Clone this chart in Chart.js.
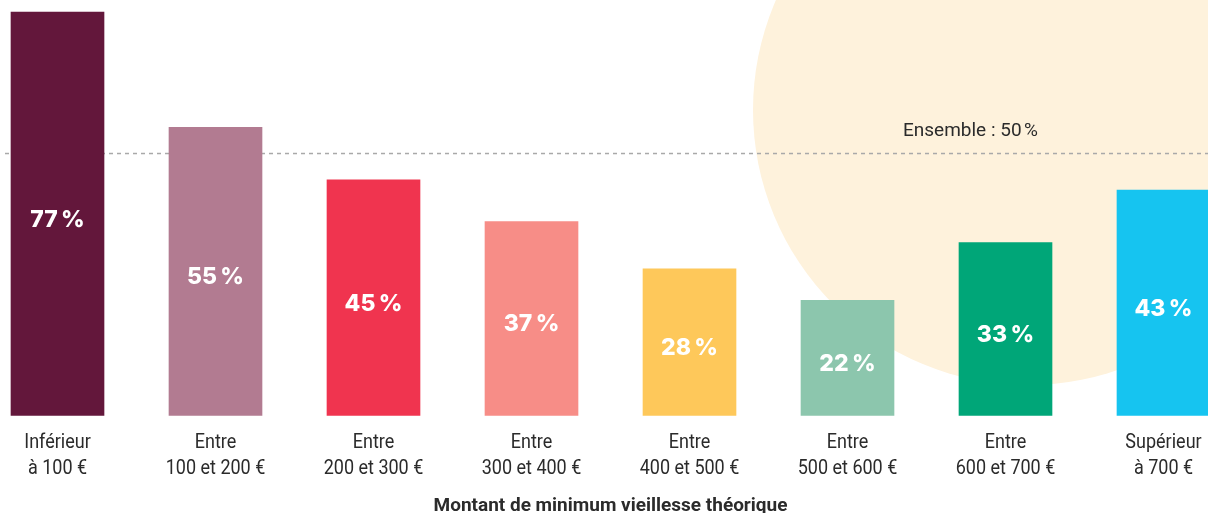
<!doctype html>
<html lang="fr">
<head>
  <meta charset="utf-8">
  <title>Minimum vieillesse théorique</title>
  <style>
    html, body { margin: 0; padding: 0; background: #fff; }
    .wrap { position: relative; width: 1208px; height: 513px; }
  </style>
</head>
<body>
  <div class="wrap">
    <canvas id="myChart"></canvas>
  </div>

  <script src="https://cdn.jsdelivr.net/npm/chart.js@4.4.2/dist/chart.umd.min.js"></script>
  <script>
    const ctx = document.getElementById('myChart');

    const labels = [
      ['Inférieur', 'à 100 €'],
      ['Entre', '100 et 200 €'],
      ['Entre', '200 et 300 €'],
      ['Entre', '300 et 400 €'],
      ['Entre', '400 et 500 €'],
      ['Entre', '500 et 600 €'],
      ['Entre', '600 et 700 €'],
      ['Supérieur', 'à 700 €']
    ];
    const values = [77, 55, 45, 37, 28, 22, 33, 43];
    const colors = ['#63173b', '#b27b91', '#f0344f', '#f78d87', '#fec85a', '#8cc6ad', '#00a678', '#16c4f0'];
    const ensemble = 50;

    // cream disc in the background, top right
    const backdrop = {
      id: 'backdrop',
      beforeDraw(chart) {
        const c = chart.ctx;
        c.save();
        c.fillStyle = '#fef2dc';
        c.beginPath();
        c.arc(1028, 110, 275, 0, Math.PI * 2);
        c.fill();
        c.restore();
      }
    };

    // dashed reference line for the whole population
    const refLine = {
      id: 'refLine',
      beforeDatasetsDraw(chart) {
        const c = chart.ctx;
        const y = chart.scales.y.getPixelForValue(ensemble);
        c.save();
        c.strokeStyle = '#a9a9a9';
        c.lineWidth = 1.5;
        c.setLineDash([4, 4]);
        c.beginPath();
        c.moveTo(5, y);
        c.lineTo(chart.width, y);
        c.stroke();
        c.setLineDash([]);
        c.fillStyle = '#2b2b2b';
        c.font = '19px Roboto';
        c.textAlign = 'left';
        c.textBaseline = 'alphabetic';
        c.fillText('Ensemble : ' + ensemble + '\u202f%', 903, y - 18);
        c.restore();
      }
    };

    // percentage written inside each bar
    const barValues = {
      id: 'barValues',
      afterDatasetsDraw(chart) {
        const c = chart.ctx;
        const meta = chart.getDatasetMeta(0);
        c.save();
        c.fillStyle = '#ffffff';
        c.font = '800 23px Inter';
        c.textAlign = 'center';
        c.textBaseline = 'middle';
        meta.data.forEach((bar, i) => {
          const mid = (bar.y + bar.base) / 2;
          c.fillText(values[i] + '\u202f%', bar.x, mid + 6);
        });
        c.restore();
      }
    };

    // two-line category labels, squeezed horizontally like a condensed face
    const catLabels = {
      id: 'catLabels',
      afterDraw(chart) {
        const c = chart.ctx;
        const xs = chart.scales.x;
        const bottom = chart.chartArea.bottom;
        c.save();
        c.fillStyle = '#2b2b2b';
        c.font = '20px Roboto';
        c.textAlign = 'center';
        c.textBaseline = 'alphabetic';
        labels.forEach((lines, i) => {
          const x = xs.getPixelForTick(i);
          lines.forEach((line, j) => {
            c.save();
            c.translate(x, bottom + 32.5 + j * 26);
            c.scale(0.9, 1);
            c.fillText(line, 0, 0);
            c.restore();
          });
        });
        c.restore();
      }
    };

    new Chart(ctx, {
      type: 'bar',
      data: {
        labels: labels,
        datasets: [{
          data: values,
          backgroundColor: colors,
          borderWidth: 0,
          barThickness: 93,
          clip: false
        }]
      },
      plugins: [backdrop, refLine, barValues, catLabels],
      options: {
        responsive: true,
        maintainAspectRatio: false,
        animation: false,
        layout: {
          padding: { left: 57.5, right: 44.5, top: 0, bottom: -3 }
        },
        plugins: {
          legend: { display: false },
          tooltip: { enabled: false }
        },
        scales: {
          x: {
            offset: false,
            grid: { display: false },
            border: { display: false },
            ticks: { display: false },
            title: {
              display: true,
              text: 'Montant de minimum vieillesse théorique',
              color: '#2b2b2b',
              font: { family: 'Roboto', size: 19, weight: 'bold', lineHeight: 1 },
              padding: { top: 73.5, bottom: 0 }
            }
          },
          y: {
            display: false,
            min: 0,
            max: 79.3
          }
        }
      }
    });
  </script>
</body>
</html>
